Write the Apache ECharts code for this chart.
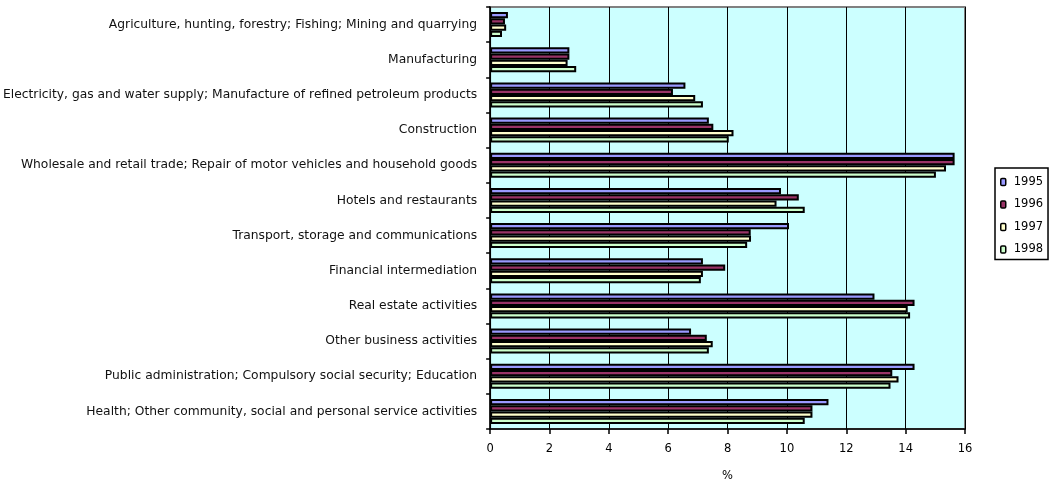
<!DOCTYPE html>
<html><head><meta charset="utf-8">
<script src="https://cdn.jsdelivr.net/npm/echarts@6/dist/echarts.min.js"></script>
<style>html,body{margin:0;padding:0;background:#fff}#c{width:1049px;height:487px}</style>
</head><body><div id="c"></div>
<script>
const categories = [
  "Agriculture, hunting, forestry; Fishing; Mining and quarrying",
  "Manufacturing",
  "Electricity, gas and water supply; Manufacture of refined petroleum products",
  "Construction",
  "Wholesale and retail trade; Repair of motor vehicles and household goods",
  "Hotels and restaurants",
  "Transport, storage and communications",
  "Financial intermediation",
  "Real estate activities",
  "Other business activities",
  "Public administration; Compulsory social security; Education",
  "Health; Other community, social and personal service activities"
];
const years = ["1995", "1996", "1997", "1998"];
const v1995 = [0.6, 2.67, 6.58, 7.37, 15.65, 9.8, 10.07, 7.17, 12.95, 6.77, 14.3, 11.4];
const v1996 = [0.5, 2.67, 6.16, 7.52, 15.65, 10.4, 8.78, 7.92, 14.3, 7.3, 13.55, 10.86];
const v1997 = [0.54, 2.61, 6.91, 8.2, 15.36, 9.65, 8.79, 7.17, 14.07, 7.5, 13.76, 10.86];
const v1998 = [0.4, 2.9, 7.17, 8.04, 15.02, 10.6, 8.66, 7.1, 14.15, 7.37, 13.49, 10.6];
const xTicks = [0, 2, 4, 6, 8, 10, 12, 14, 16];
const colors = ["#9999FF", "#993366", "#FFFFCC", "#CCFFCC"];
const values = [v1995, v1996, v1997, v1998];

const chart = echarts.init(document.getElementById('c'), null, {renderer: 'canvas'});
const font = "DejaVu Sans";
chart.setOption({
  animation: false,
  textStyle: {fontFamily: font},
  grid: {left: 489, right: 84, top: 7, bottom: 56, show: true, backgroundColor: '#CCFFFF', borderColor: '#808080', borderWidth: 2},
  legend: {
    orient: 'vertical', left: 995, top: 168, itemWidth: 5, itemHeight: 7, itemGap: 10.5,
    padding: [8, 5, 4, 5], borderColor: '#000', borderWidth: 1.5,
    textStyle: {fontSize: 11.5, color: '#000', fontFamily: font, padding: [0, 0, 0, 3]},
    data: years.map((y, i) => ({name: y, itemStyle: {color: colors[i], borderColor: '#000', borderWidth: 1.5}}))
  },
  xAxis: {
    type: 'value', min: xTicks[0], max: xTicks[xTicks.length - 1], interval: 2,
    name: '%', nameLocation: 'middle', nameGap: 41,
    nameTextStyle: {fontSize: 11.5, color: '#000', fontFamily: font},
    axisLine: {show: true, lineStyle: {color: '#000', width: 1.5}},
    axisTick: {show: true, length: 5, lineStyle: {color: '#000', width: 1.5}},
    axisLabel: {fontSize: 11.5, color: '#000', margin: 14, fontFamily: font},
    splitLine: {show: true, lineStyle: {color: '#000', width: 1}}
  },
  yAxis: {
    type: 'category', data: categories, inverse: true,
    axisLine: {show: true, lineStyle: {color: '#000', width: 1.5}},
    axisTick: {show: true, length: 4, inside: false, lineStyle: {color: '#000', width: 1.5}},
    axisLabel: {fontSize: 12.3, color: '#111', margin: 13, fontFamily: font},
    splitLine: {show: false}
  },
  series: years.map((y, i) => ({
    name: y, type: 'bar', data: values[i],
    barGap: '0%', barCategoryGap: '29%',
    itemStyle: {color: colors[i], borderColor: '#000', borderWidth: 2}
  }))
});
</script></body></html>
